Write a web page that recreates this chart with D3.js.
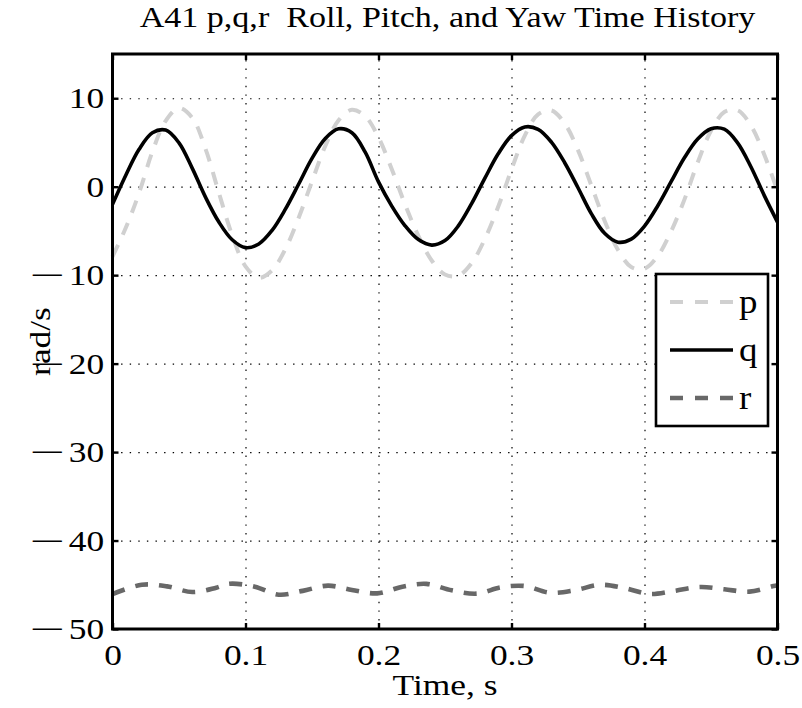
<!DOCTYPE html>
<html>
<head>
<meta charset="utf-8">
<script src="https://cdn.jsdelivr.net/npm/d3@7"></script>
<style>
  html, body { margin: 0; padding: 0; background: #fff; }
  svg { display: block; }
</style>
</head>
<body>
<svg id="chart" width="802" height="708"></svg>
<script>
// ---------------- data ----------------
const timeS = [0.00,0.01,0.02,0.03,0.04,0.05,0.06,0.07,0.08,0.09,
               0.10,0.11,0.12,0.13,0.14,0.15,0.16,0.17,0.18,0.19,
               0.20,0.21,0.22,0.23,0.24,0.25,0.26,0.27,0.28,0.29,
               0.30,0.31,0.32,0.33,0.34,0.35,0.36,0.37,0.38,0.39,
               0.40,0.41,0.42,0.43,0.44,0.45,0.46,0.47,0.48,0.49,0.50];

const pValues = [-7.9,-4.65,-0.7,3.96,7.45,8.89,7.78,4.24,-0.7,-5.5,
                 -9.01,-10.3,-9.45,-7.05,-3.5,0.59,4.61,7.51,8.69,7.97,
                 5.57,1.97,-2.02,-5.56,-8.34,-9.93,-10.07,-8.65,-5.9,-2.27,
                 1.95,5.78,8.18,8.62,7.15,4.13,0.15,-3.85,-7.12,-9.07,
                 -9.27,-7.83,-5.05,-1.46,2.74,6.32,8.44,8.64,6.92,3.64,-0.5];

const qValues = [-2.0,1.3,4.23,6.1,6.4,4.96,2.07,-1.21,-4.0,-6.0,
                 -6.89,-6.47,-4.93,-2.54,0.3,3.2,5.45,6.54,6.1,3.9,
                 0.54,-2.19,-4.42,-5.98,-6.6,-6.09,-4.43,-1.92,0.97,3.72,
                 5.77,6.75,6.48,5.04,2.71,-0.12,-3.04,-5.27,-6.27,-5.92,
                 -4.45,-2.15,0.57,3.27,5.39,6.55,6.5,4.96,2.26,-0.98,-4.0];

const rTimes  = [0.000,0.022,0.041,0.060,0.078,0.088,0.107,0.125,0.143,0.162,
                 0.180,0.199,0.218,0.236,0.255,0.274,0.292,0.310,0.329,0.348,
                 0.367,0.385,0.404,0.422,0.442,0.460,0.479,0.497,0.500];
const rValues = [-46.05,-45.0,-45.18,-45.82,-45.33,-44.88,-45.22,-46.12,-45.69,-45.1,
                 -45.59,-45.97,-45.22,-44.9,-45.63,-46.0,-45.29,-45.14,-45.9,-45.6,
                 -45.0,-45.37,-46.04,-45.7,-45.25,-45.51,-45.78,-45.14,-45.05];

const seriesNames = ["p", "q", "r"];
const xTicks = [0, 0.1, 0.2, 0.3, 0.4, 0.5];
const xTickLabels = ["0", "0.1", "0.2", "0.3", "0.4", "0.5"];
const yTicks = [-50, -40, -30, -20, -10, 0, 10];
const yTickLabels = ["\u221250", "\u221240", "\u221230", "\u221220", "\u221210", "0", "10"];
const titleText = "A41 p,q,r  Roll, Pitch, and Yaw Time History";
const xLabel = "Time, s";
const yLabel = "rad/s";

// ---------------- layout ----------------
const L = 112.5, R = 777.5, T = 54, B = 629;
const FONT = "'Liberation Serif', 'Times New Roman', Times, serif";
const FS = 30;
const SX = 1.18;   // horizontal stretch of the reference glyphs

const svg = d3.select("#chart");
const x = d3.scaleLinear().domain([0, 0.5]).range([L, R]);
const y = d3.scaleLinear().domain([-50, 15]).range([B, T]);

// grid (dotted)
const grid = svg.append("g");
grid.append("g").attr("transform", `translate(0,${B})`)
  .call(d3.axisBottom(x).tickValues(xTicks.slice(1, -1)).tickSize(-(B - T)).tickFormat(""))
  .call(g => g.select(".domain").remove());
grid.append("g").attr("transform", `translate(${L},0)`)
  .call(d3.axisLeft(y).tickValues(yTicks.slice(1)).tickSize(-(R - L)).tickFormat(""))
  .call(g => g.select(".domain").remove());
grid.selectAll("line")
  .attr("stroke", "#000").attr("stroke-width", 1.2)
  .attr("stroke-dasharray", "1.4,7.2");

// series
const lineT = d3.line().x((d, i) => x(timeS[i])).y(d => y(d)).curve(d3.curveCatmullRom.alpha(0.5));
const lineR = d3.line().x((d, i) => x(rTimes[i])).y(d => y(d)).curve(d3.curveCatmullRom.alpha(0.5));

const styles = {
  p: { color: "#d0d0d0", width: 4, dash: "13,11" },
  q: { color: "#000000", width: 3.6, dash: null },
  r: { color: "#686868", width: 4.6, dash: "13,11" }
};

const plot = svg.append("g");
plot.append("path").datum(pValues).attr("d", lineT)
  .attr("fill", "none").attr("stroke", styles.p.color).attr("stroke-width", styles.p.width)
  .attr("stroke-dasharray", styles.p.dash);
plot.append("path").datum(qValues).attr("d", lineT)
  .attr("fill", "none").attr("stroke", styles.q.color).attr("stroke-width", styles.q.width)
  .attr("stroke-linejoin", "round");
plot.append("path").datum(rValues).attr("d", lineR)
  .attr("fill", "none").attr("stroke", styles.r.color).attr("stroke-width", styles.r.width)
  .attr("stroke-dasharray", styles.r.dash);

// axes
function styleAxis(g) {
  g.select(".domain").remove();
  g.selectAll(".tick line").attr("stroke", "#000").attr("stroke-width", 2.4);
  g.selectAll("text")
    .style("font-family", FONT).style("font-size", FS + "px").attr("fill", "#000");
}
// bottom axis with labels
const xAx = svg.append("g").attr("transform", `translate(0,${B})`)
  .call(d3.axisBottom(x).tickValues(xTicks).tickFormat((d, i) => xTickLabels[i])
    .tickSizeInner(-6).tickSizeOuter(0).tickPadding(14.5))
  .call(styleAxis);
xAx.selectAll(".tick text").attr("transform", `scale(${SX},1)`);

svg.append("g").attr("transform", `translate(0,${T})`)
  .call(d3.axisTop(x).tickValues(xTicks).tickFormat("").tickSizeInner(-6).tickSizeOuter(0))
  .call(styleAxis);

const yAx = svg.append("g").attr("transform", `translate(${L},0)`)
  .call(d3.axisLeft(y).tickValues(yTicks).tickFormat((d, i) => yTickLabels[i])
    .tickSizeInner(-6).tickSizeOuter(0).tickPadding(7))
  .call(styleAxis);
// wide minus sign as in the reference
yAx.selectAll(".tick text").each(function () {
  const t = d3.select(this);
  const s = t.text();
  t.attr("transform", `scale(${SX},1)`);
  if (s.startsWith("\u2212")) {
    t.text(null);
    t.append("tspan").attr("textLength", 30).attr("lengthAdjust", "spacingAndGlyphs").text("\u2212");
    t.append("tspan").attr("dx", 3).text(s.slice(1));
  }
});

svg.append("g").attr("transform", `translate(${R},0)`)
  .call(d3.axisRight(y).tickValues(yTicks).tickFormat("").tickSizeInner(-6).tickSizeOuter(0))
  .call(styleAxis);

// frame
svg.append("rect").attr("x", L).attr("y", T).attr("width", R - L).attr("height", B - T)
  .attr("fill", "none").attr("stroke", "#000").attr("stroke-width", 3);

// title & labels
svg.append("text").attr("transform", `translate(447.5,27) scale(1.135,1)`)
  .attr("text-anchor", "middle")
  .attr("xml:space", "preserve").style("white-space", "pre")
  .style("font-family", FONT).style("font-size", FS + "px").text(titleText);
svg.append("text").attr("transform", `translate(${(L + R) / 2},695) scale(${SX},1)`)
  .attr("text-anchor", "middle")
  .style("font-family", FONT).style("font-size", FS + "px").text(xLabel);
svg.append("text").attr("transform", `translate(50,${(T + B) / 2}) rotate(-90) scale(${SX},1)`)
  .attr("text-anchor", "middle")
  .style("font-family", FONT).style("font-size", FS + "px").text(yLabel);

// legend
const legX = 656, legY = 274, legW = 112, legH = 152;
const leg = svg.append("g");
leg.append("rect").attr("x", legX).attr("y", legY).attr("width", legW).attr("height", legH)
  .attr("fill", "#fff").attr("stroke", "#000").attr("stroke-width", 2.6);
seriesNames.forEach((name, i) => {
  const ly = legY + 28 + i * 48;
  const s = styles[name];
  leg.append("line").attr("x1", legX + 14).attr("x2", legX + 77).attr("y1", ly).attr("y2", ly)
    .attr("stroke", s.color).attr("stroke-width", s.width)
    .attr("stroke-dasharray", s.dash ? "13,12" : null);
  leg.append("text").attr("transform", `translate(${legX + 83},${ly + 11}) scale(1.12,1)`)
    .style("font-family", FONT).style("font-size", "33px").text(name);
});
</script>
</body>
</html>
